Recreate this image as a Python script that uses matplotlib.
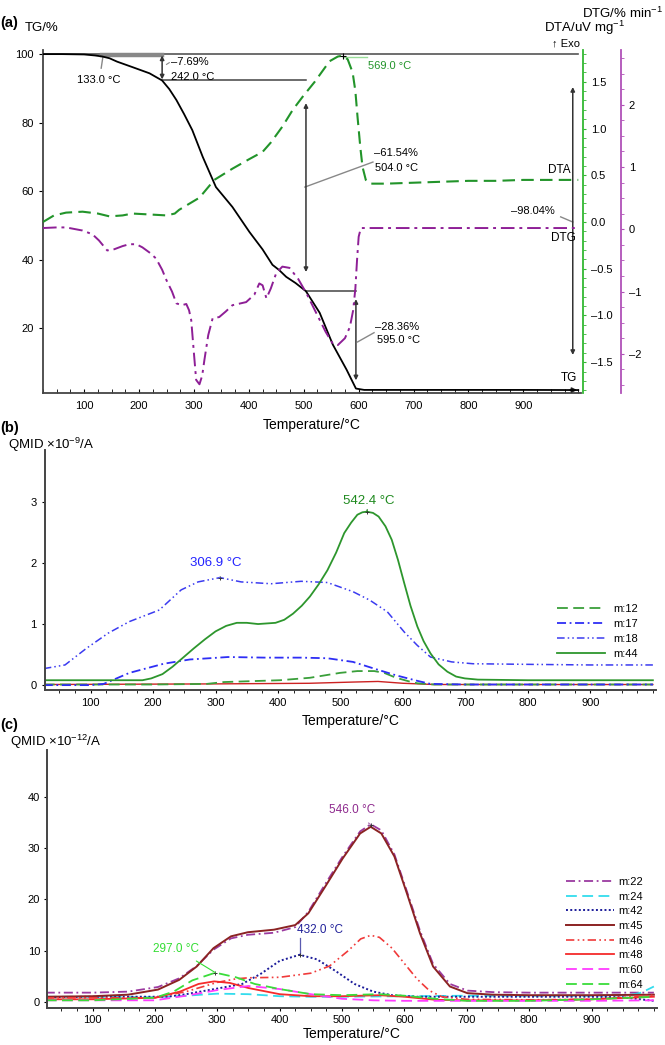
import matplotlib.pyplot as plt
from matplotlib.ticker import MultipleLocator

plt.rcParams['font.family'] = ['Liberation Sans', 'DejaVu Sans']
plt.rcParams['mathtext.fontset'] = 'custom'
plt.rcParams['mathtext.rm'] = 'Liberation Sans'
plt.rcParams['mathtext.it'] = 'Liberation Sans'

# ---------------- panel (a): TG / DTA / DTG ----------------
tg_temp = [25, 60, 100, 120, 133, 146, 160, 188, 219, 242, 255, 268, 282, 297, 316, 340, 370,
           401, 425, 443, 455, 468, 485, 504, 529, 553, 578, 595, 610, 700, 800, 900, 1000]
tg_val = [100, 100, 99.9, 99.6, 99.3, 98.8, 97.8, 96.2, 94.4, 92.3, 89.8, 86.6, 82.5, 77.8, 70.0,
          61.2, 55.4, 48.1, 43.0, 38.5, 37.0, 35.0, 33.2, 30.8, 24.5, 15.2, 7.9, 2.4, 2.0, 2.0,
          2.0, 2.0, 1.96]

dta_temp = [25, 45, 67, 97, 125, 146, 170, 188, 220, 250, 265, 273, 290, 310, 337, 370, 400,
            425, 440, 461, 480, 498, 520, 547, 562, 571, 580, 589, 594, 598, 603, 607, 613, 620,
            650, 700, 750, 800, 850, 900, 950, 1000]
dta_val = [0.0, 0.07, 0.1, 0.11, 0.09, 0.06, 0.07, 0.09, 0.08, 0.07, 0.09, 0.13, 0.19, 0.26,
           0.45, 0.57, 0.67, 0.75, 0.85, 1.02, 1.2, 1.34, 1.5, 1.72, 1.77, 1.78, 1.74, 1.6, 1.4,
           1.12, 0.8, 0.59, 0.45, 0.41, 0.41, 0.42, 0.43, 0.44, 0.44, 0.45, 0.45, 0.45]

dtg_temp = [25, 50, 67, 97, 115, 127, 142, 155, 170, 182, 195, 206, 220, 231, 242, 250, 260,
            268, 278, 286, 291, 295, 300, 304, 310, 315, 319, 326, 334, 346, 358, 370, 395, 410,
            419, 425, 432, 440, 450, 461, 474, 490, 505, 523, 540, 553, 562, 575, 584, 590, 594,
            597, 600, 604, 700, 800, 900, 1000]
dtg_val = [0.02, 0.03, 0.03, -0.02, -0.08, -0.18, -0.34, -0.32, -0.27, -0.24, -0.24, -0.29,
           -0.38, -0.47, -0.65, -0.82, -1.0, -1.19, -1.22, -1.2, -1.3, -1.46, -2.0, -2.42, -2.49,
           -2.35, -2.1, -1.7, -1.43, -1.41, -1.32, -1.22, -1.17, -1.05, -0.87, -0.9, -1.11,
           -0.95, -0.7, -0.6, -0.62, -0.8, -1.03, -1.35, -1.65, -1.84, -1.86, -1.75, -1.57,
           -1.3, -0.95, -0.5, -0.12, 0.02, 0.02, 0.02, 0.02, 0.02]

step_temp = [242, 504, 595]
step_tg = [92.31, 30.77, 2.41]
step_loss = ['–7.69%', '–61.54%', '–28.36%']

# ---------------- panel (b): QMID x1e-9 A ----------------
b_m44_t = [25, 100, 183, 197, 215, 231, 248, 265, 283, 300, 317, 334, 350, 368, 396, 410, 424,
           438, 451, 465, 479, 493, 506, 517, 527, 535, 542, 552, 561, 572, 582, 592, 602, 612,
           623, 633, 644, 657, 671, 685, 699, 720, 800, 900, 1000]
b_m44_v = [0.08, 0.08, 0.08, 0.11, 0.18, 0.3, 0.45, 0.6, 0.75, 0.88, 0.97, 1.02, 1.02, 1.0,
           1.02, 1.07, 1.17, 1.3, 1.45, 1.65, 1.88, 2.17, 2.49, 2.66, 2.79, 2.83, 2.84, 2.82,
           2.76, 2.6, 2.38, 2.05, 1.67, 1.3, 0.96, 0.72, 0.52, 0.34, 0.22, 0.14, 0.11, 0.09,
           0.08, 0.08, 0.08]
b_m18_t = [25, 59, 93, 128, 162, 210, 245, 272, 307, 341, 389, 437, 479, 520, 547, 575, 602,
           623, 644, 678, 712, 800, 900, 1000]
b_m18_v = [0.27, 0.33, 0.6, 0.85, 1.04, 1.23, 1.56, 1.69, 1.76, 1.69, 1.66, 1.7, 1.68, 1.53,
           1.39, 1.2, 0.87, 0.65, 0.46, 0.38, 0.35, 0.34, 0.33, 0.33]
b_m17_t = [25, 100, 121, 162, 217, 259, 290, 320, 380, 437, 479, 520, 554, 589, 623, 644, 700,
           800, 900, 1000]
b_m17_v = [0.0, 0.0, 0.02, 0.2, 0.35, 0.42, 0.44, 0.46, 0.45, 0.45, 0.44, 0.38, 0.27, 0.16,
           0.07, 0.02, 0.01, 0.01, 0.01, 0.01]
b_m12_t = [25, 200, 286, 313, 403, 451, 499, 527, 554, 570, 589, 610, 623, 650, 800, 1000]
b_m12_v = [0.01, 0.01, 0.02, 0.05, 0.08, 0.12, 0.2, 0.23, 0.23, 0.2, 0.12, 0.06, 0.03, 0.01,
           0.01, 0.01]
b_other_t = [25, 300, 450, 520, 560, 600, 650, 1000]
b_other_v = [0.01, 0.02, 0.03, 0.05, 0.06, 0.03, 0.01, 0.01]

# ---------------- panel (c): QMID x1e-12 A ----------------
c_temp = [25, 100, 157, 205, 239, 267, 294, 322, 349, 391, 425, 446, 473, 501, 529, 546, 563,
          584, 604, 625, 646, 673, 701, 742, 800, 900, 1000]
c_m45 = [1.0, 1.1, 1.4, 2.4, 4.3, 6.9, 10.5, 12.8, 13.6, 14.1, 15.0, 17.3, 22.5, 28.0, 32.9,
         34.2, 32.9, 28.4, 21.2, 13.4, 6.9, 3.0, 1.7, 1.4, 1.3, 1.3, 1.4]
c_m22 = [1.8, 1.8, 2.0, 2.9, 4.6, 7.0, 10.2, 12.4, 13.1, 13.5, 14.6, 17.6, 23.0, 28.4, 33.3,
         34.7, 33.5, 28.8, 21.6, 13.9, 7.4, 3.5, 2.2, 1.9, 1.8, 1.8, 1.8]

c_m46_t = [25, 100, 200, 250, 300, 330, 350, 400, 450, 480, 510, 530, 546, 560, 580, 600, 620,
           640, 660, 700, 800, 900, 1000]
c_m46_v = [0.8, 0.8, 0.8, 2.0, 3.8, 4.5, 4.7, 4.8, 5.6, 7.0, 10.0, 12.3, 13.0, 12.6, 10.5, 7.5,
           4.5, 2.2, 1.0, 0.5, 0.4, 0.5, 1.3]
c_m42_t = [25, 100, 220, 250, 300, 340, 370, 400, 432, 460, 490, 520, 550, 580, 620, 700, 800,
           900, 950, 1000]
c_m42_v = [0.9, 1.0, 1.0, 1.5, 2.6, 3.5, 5.5, 8.0, 9.2, 8.3, 6.0, 3.5, 2.0, 1.3, 1.0, 1.0, 1.0,
           1.0, 0.9, 0.2]
c_m48_t = [25, 100, 200, 240, 270, 295, 320, 350, 400, 450, 500, 560, 600, 650, 700, 800, 900,
           1000]
c_m48_v = [0.5, 0.5, 0.8, 2.0, 3.5, 4.0, 3.7, 2.7, 1.5, 1.1, 1.1, 1.3, 1.0, 0.4, 0.3, 0.3, 0.5,
           1.0]
c_m64_t = [25, 100, 200, 230, 260, 297, 330, 360, 400, 450, 500, 560, 600, 650, 700, 800, 900,
           1000]
c_m64_v = [0.3, 0.3, 0.8, 2.0, 4.2, 5.7, 4.8, 3.5, 2.5, 1.5, 1.3, 1.5, 1.2, 0.6, 0.2, 0.2, 0.5,
           1.0]
c_m60_t = [25, 100, 200, 250, 300, 350, 400, 450, 500, 550, 600, 700, 800, 900, 1000]
c_m60_v = [0.3, 0.3, 0.3, 1.2, 2.3, 3.1, 2.5, 1.5, 0.6, 0.3, 0.2, 0.2, 0.2, 0.2, 0.3]
c_m24_t = [25, 100, 200, 250, 300, 350, 400, 450, 500, 600, 700, 800, 900, 960, 980, 1000]
c_m24_v = [1.0, 1.0, 0.9, 1.2, 1.6, 1.5, 1.1, 1.0, 1.0, 1.1, 1.2, 1.2, 1.2, 1.3, 1.8, 3.0]

DDOT = (5, 2, 1, 2, 1, 2)
DOT1 = (5, 2, 1, 2)

fig = plt.figure(figsize=(6.65, 10.45), dpi=100)

# ======================= (a) =======================
ax = fig.add_axes([43 / 665, 1 - 393 / 1045, 538 / 665, 343 / 1045])
ax.set_xlim(25, 1005)
ax.set_ylim(1.1, 101.2)
ax.plot(tg_temp, tg_val, color='black', lw=1.3, zorder=4)
ax.annotate('', xy=(1003, tg_val[-1]), xytext=(980, tg_val[-1]),
            arrowprops=dict(arrowstyle='-|>', color='#222', lw=1.2, mutation_scale=7))
for s in ['top', 'right']:
    ax.spines[s].set_visible(False)
for s in ['left', 'bottom']:
    ax.spines[s].set_color('#444')
    ax.spines[s].set_linewidth(1.3)
ax.set_yticks([20, 40, 60, 80, 100])
ax.set_xticks(range(100, 1000, 100))
ax.xaxis.set_minor_locator(MultipleLocator(25))
ax.tick_params(axis='x', which='both', direction='in', length=3, labelsize=8, pad=6)
ax.tick_params(axis='y', length=3, labelsize=8)
ax.set_xlabel('Temperature/°C', fontsize=10, labelpad=5)

# reference lines and steps
ax.plot([tg_temp[0], 1000], [100, 100], color='#555', lw=1.2, zorder=3)
ax.plot([133, step_temp[0]], [99.85, 99.85], color='#888', lw=3.2, zorder=3)
ax.plot([step_temp[0], step_temp[1]], [step_tg[0], step_tg[0]], color='#444', lw=1.1)
ax.plot([step_temp[1], step_temp[2]], [step_tg[1], step_tg[1]], color='#444', lw=1.1)
arrow_kw = dict(arrowstyle='<|-|>', color='#333', lw=1.1, mutation_scale=6, shrinkA=0, shrinkB=0)
ax.annotate('', xy=(step_temp[0], 99.6), xytext=(step_temp[0], step_tg[0] + 0.3), arrowprops=arrow_kw)
ax.annotate('', xy=(step_temp[1], 85.7), xytext=(step_temp[1], 36.4), arrowprops=arrow_kw)
ax.annotate('', xy=(step_temp[2], 28.5), xytext=(step_temp[2], 4.8), arrowprops=arrow_kw)
ax.annotate('', xy=(990, 90.4), xytext=(990, 12.2), arrowprops=arrow_kw)

ax.plot([134, 131], [99.1, 95.9], color='#888', lw=1)
ax.text(127, 92.4, '133.0 °C', fontsize=8, ha='center', va='center')
ax.text(258, 97.7, step_loss[0], fontsize=8, va='center')
ax.text(258, 93.3, '242.0 °C', fontsize=8, va='center')
ax.plot([250, 255], [97.0, 97.5], color='#888', lw=0.8)
ax.plot([step_temp[1] - 2, 626], [61.2, 68.5], color='#888', lw=1)
ax.text(628, 71.1, step_loss[1], fontsize=8, va='center')
ax.text(630, 66.8, '504.0 °C', fontsize=8, va='center')
ax.plot([step_temp[2] + 3, 628], [16.0, 18.7], color='#888', lw=1)
ax.text(630, 20.4, step_loss[2], fontsize=8, va='center')
ax.text(634, 16.6, '595.0 °C', fontsize=8, va='center')
ax.plot([968, 990], [52.5, 51.0], color='#888', lw=1)
ax.text(958, 54.2, '–98.04%', fontsize=8, ha='right', va='center')
ax.text(995, 46.4, 'DTG', fontsize=8.5, ha='right', va='center')
ax.text(986, 66.2, 'DTA', fontsize=8.5, ha='right', va='center')
ax.text(998, 5.6, 'TG', fontsize=8.5, ha='right', va='center')
ax.plot([571, 615], [99.2, 99.2], color='#99dd99', lw=1)
ax.text(617, 96.5, '569.0 °C', fontsize=8, color='#22942a', va='center')

ax_dta = ax.twinx()
ax_dta.set_position(ax.get_position())
ax_dta.set_ylim(-1.83, 1.84)
ax_dta.plot(dta_temp, dta_val, color='#22942a', lw=1.5, dashes=(6, 3))
ax_dta.plot([571], [1.78], marker='+', color='black', ms=4, mew=0.8)
for s in ['top', 'left', 'bottom']:
    ax_dta.spines[s].set_visible(False)
ax_dta.spines['right'].set_color('#33b833')
ax_dta.spines['right'].set_linewidth(1.3)
ax_dta.spines['right'].set_position(('outward', 1.5))
ax_dta.set_yticks([-1.5, -1.0, -0.5, 0.0, 0.5, 1.0, 1.5])
ax_dta.set_yticklabels(['–1.5', '–1.0', '–0.5', '0.0', '0.5', '1.0', '1.5'])
ax_dta.yaxis.set_minor_locator(MultipleLocator(0.1))
ax_dta.tick_params(axis='y', which='both', length=2, color='#33b833', labelsize=8)

ax_dtg = ax.twinx()
ax_dtg.set_position(ax.get_position())
ax_dtg.set_ylim(-2.63, 2.88)
ax_dtg.plot(dtg_temp, dtg_val, color='#8e1f96', lw=1.4, dashes=(7, 2.5, 1.5, 2.5))
for s in ['top', 'left', 'bottom']:
    ax_dtg.spines[s].set_visible(False)
ax_dtg.spines['right'].set_color('#b050b8')
ax_dtg.spines['right'].set_linewidth(1.3)
ax_dtg.spines['right'].set_position(('outward', 29))
ax_dtg.set_yticks([-2, -1, 0, 1, 2])
ax_dtg.set_yticklabels(['–2', '–1', '0', '1', '2'])
ax_dtg.yaxis.set_minor_locator(MultipleLocator(0.25))
ax_dtg.tick_params(axis='y', which='both', length=2, color='#b050b8', labelsize=8)

fig.text(0 / 665, 1 - 23 / 1045, '(a)', fontsize=10.5, fontweight='bold', va='center')
fig.text(25 / 665, 1 - 28 / 1045, 'TG/%', fontsize=9.5, va='center')
fig.text(663 / 665, 1 - 13 / 1045, 'DTG/% min$^{-1}$', fontsize=9.5, ha='right', va='center')
fig.text(625 / 665, 1 - 28 / 1045, 'DTA/uV mg$^{-1}$', fontsize=9.5, ha='right', va='center')
fig.text(580 / 665, 1 - 43 / 1045, '↑ Exo', fontsize=8, ha='right', va='center')

# ======================= (b) =======================
bx = fig.add_axes([45 / 665, 1 - 690 / 1045, 611 / 665, 240 / 1045])
bx.set_xlim(27, 1005)
bx.set_ylim(-0.08, 3.85)
bx.plot(b_other_t, b_other_v, color='#cc2222', lw=1.0)
bx.plot(b_m12_t, b_m12_v, color='#3a9f3a', lw=1.3, dashes=(6, 3), label='m:12')
bx.plot(b_m17_t, b_m17_v, color='#2e2ef5', lw=1.3, dashes=DOT1, label='m:17')
bx.plot(b_m18_t, b_m18_v, color='#3b3bf0', lw=1.1, dashes=DDOT, label='m:18')
bx.plot(b_m44_t, b_m44_v, color='#2d962d', lw=1.3, label='m:44')
bx.annotate('306.9 °C', xy=(307, 1.76), xytext=(300, 2.0), color='#2222ff', fontsize=9.5,
            ha='center', va='center',
            arrowprops=dict(arrowstyle='-', color='#6b7bd8', lw=0.8, shrinkA=4, shrinkB=0))
bx.annotate('542.4 °C', xy=(542, 2.84), xytext=(546, 3.02), color='#1f8a1f', fontsize=9.5,
            ha='center', va='center',
            arrowprops=dict(arrowstyle='-', color='#1f8a1f', lw=0.8, shrinkA=4, shrinkB=0))
bx.plot([307, 542], [1.76, 2.84], ls='none', marker='+', color='#333', ms=3.5, mew=0.7)
for s in ['top', 'right']:
    bx.spines[s].set_visible(False)
for s in ['left', 'bottom']:
    bx.spines[s].set_color('#444')
    bx.spines[s].set_linewidth(1.4)
bx.set_yticks([0, 1, 2, 3])
bx.set_xticks(range(100, 1000, 100))
bx.xaxis.set_minor_locator(MultipleLocator(25))
bx.tick_params(axis='both', which='both', length=2.5, labelsize=8)
bx.set_xlabel('Temperature/°C', fontsize=10, labelpad=4)
bx.legend(loc='upper left', bbox_to_anchor=(557 / 665, 1 - 604 / 1045),
          bbox_transform=fig.transFigure, frameon=False, fontsize=8, handlelength=4.3,
          handletextpad=0.8, labelspacing=0.45, borderpad=0, borderaxespad=0)
fig.text(0, 1 - 428 / 1045, '(b)', fontsize=10.5, fontweight='bold', va='center')
fig.text(8 / 665, 1 - 445 / 1045, 'QMID ×10$^{-9}$/A', fontsize=9.5, va='center')

# ======================= (c) =======================
cx = fig.add_axes([47 / 665, 1 - 1008 / 1045, 610 / 665, 258 / 1045])
cx.set_xlim(27, 1005)
cx.set_ylim(-1.2, 49.2)
cx.plot(c_temp, c_m22, color='#9b3aa0', lw=1.3, dashes=DOT1, label='m:22')
cx.plot(c_m24_t, c_m24_v, color='#33dced', lw=1.3, dashes=(6, 3), label='m:24')
cx.plot(c_m42_t, c_m42_v, color='#1c1c9a', lw=1.4, dashes=(1, 1.2), label='m:42')
cx.plot(c_temp, c_m45, color='#8b2323', lw=1.4, label='m:45')
cx.plot(c_m46_t, c_m46_v, color='#f03a3a', lw=1.2, dashes=DDOT, label='m:46')
cx.plot(c_m48_t, c_m48_v, color='#f52b2b', lw=1.3, label='m:48')
cx.plot(c_m60_t, c_m60_v, color='#ff3cff', lw=1.3, dashes=(6, 3), label='m:60')
cx.plot(c_m64_t, c_m64_v, color='#3adc3a', lw=1.3, dashes=(6, 3), label='m:64')
cx.annotate('546.0 °C', xy=(546, 34.6), xytext=(516, 37.5), color='#8e2a8e', fontsize=8.5,
            ha='center', va='center',
            arrowprops=dict(arrowstyle='-', color='#b07ab8', lw=0.9, shrinkA=5, shrinkB=0))
cx.text(465, 14.0, '432.0 °C', color='#22229a', fontsize=8.5, ha='center', va='center')
cx.plot([432, 432], [12.4, 9.2], color='#5a5ab0', lw=0.9)
cx.annotate('297.0 °C', xy=(297, 5.7), xytext=(234, 10.4), color='#33dd33', fontsize=8.5,
            ha='center', va='center',
            arrowprops=dict(arrowstyle='-', color='#33dd33', lw=0.8, shrinkA=5, shrinkB=0))
cx.plot([546, 432, 297], [34.6, 9.2, 5.7], ls='none', marker='+', color='#333', ms=3.5, mew=0.7)
for s in ['top', 'right']:
    cx.spines[s].set_visible(False)
for s in ['left', 'bottom']:
    cx.spines[s].set_color('#444')
    cx.spines[s].set_linewidth(1.4)
cx.set_yticks([0, 10, 20, 30, 40])
cx.set_xticks(range(100, 1000, 100))
cx.xaxis.set_minor_locator(MultipleLocator(25))
cx.tick_params(axis='both', which='both', length=2.5, labelsize=8, pad=2.5)
cx.set_xlabel('Temperature/°C', fontsize=10, labelpad=1.5)
cx.legend(loc='upper left', bbox_to_anchor=(566 / 665, 1 - 877 / 1045),
          bbox_transform=fig.transFigure, frameon=False, fontsize=8, handlelength=4.3,
          handletextpad=0.4, labelspacing=0.42, borderpad=0, borderaxespad=0)
fig.text(0, 1 - 725 / 1045, '(c)', fontsize=10.5, fontweight='bold', va='center')
fig.text(10 / 665, 1 - 742 / 1045, 'QMID ×10$^{-12}$/A', fontsize=9.5, va='center')

fig.savefig('out.png', dpi=100)
